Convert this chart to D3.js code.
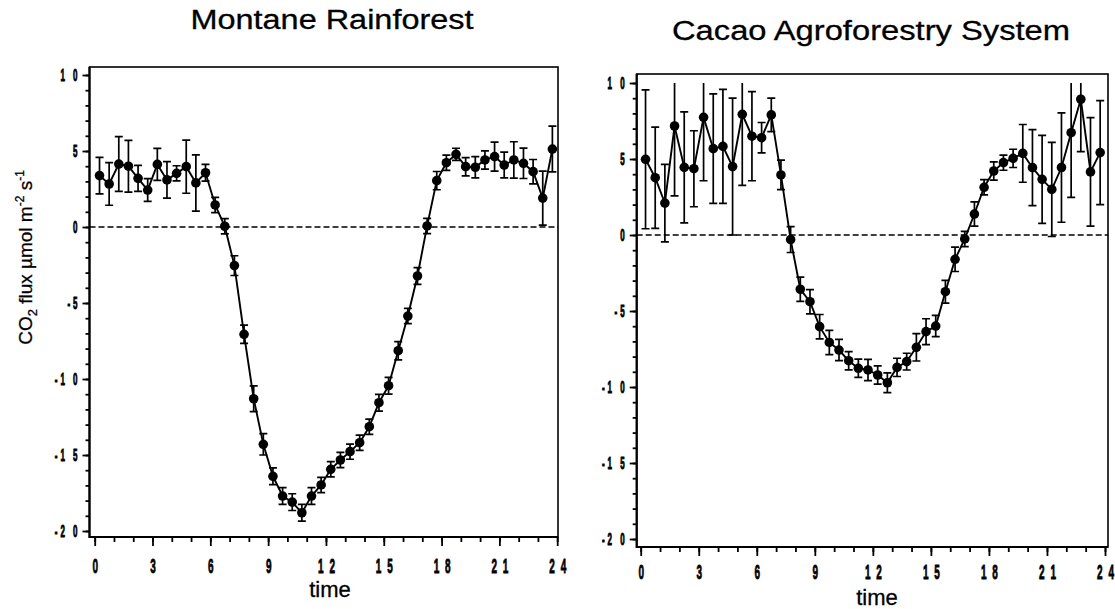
<!DOCTYPE html>
<html>
<head>
<meta charset="utf-8">
<script src="https://cdn.jsdelivr.net/npm/d3@7"></script>
<style>
  body { margin: 0; background: #fff; }
  text { font-family: "Liberation Sans", Arial, sans-serif; fill: #000; }
</style>
</head>
<body>
<svg id="chart" width="1115" height="609"></svg>
<script>
// half-hourly means of CO2 flux (µmol m-2 s-1) with error bars
const hours = [0.25, 0.75, 1.25, 1.75, 2.25, 2.75, 3.25, 3.75, 4.25, 4.75, 5.25, 5.75,
  6.25, 6.75, 7.25, 7.75, 8.25, 8.75, 9.25, 9.75, 10.25, 10.75, 11.25, 11.75,
  12.25, 12.75, 13.25, 13.75, 14.25, 14.75, 15.25, 15.75, 16.25, 16.75, 17.25, 17.75,
  18.25, 18.75, 19.25, 19.75, 20.25, 20.75, 21.25, 21.75, 22.25, 22.75, 23.25, 23.75];

const rainforestFlux = [3.38, 2.83, 4.14, 4.0, 3.2, 2.43, 4.12, 3.1, 3.53, 3.97, 2.9, 3.57,
  1.45, 0.05, -2.54, -7.06, -11.3, -14.3, -16.4, -17.7, -18.1, -18.8, -17.7, -16.97,
  -15.94, -15.33, -14.78, -14.19, -13.14, -11.56, -10.44, -8.14, -5.86, -3.22, 0.07, 3.05,
  4.23, 4.78, 3.97, 3.93, 4.41, 4.63, 4.08, 4.41, 4.19, 3.64, 1.9, 5.13];
const rainforestErr = [1.2, 1.4, 1.8, 1.7, 0.85, 0.75, 1.05, 1.2, 0.5, 1.75, 1.85, 0.55,
  0.5, 0.5, 0.65, 0.6, 0.85, 0.7, 0.55, 0.55, 0.55, 0.55, 0.55, 0.5,
  0.5, 0.5, 0.5, 0.5, 0.5, 0.55, 0.55, 0.6, 0.5, 0.55, 0.5, 0.6,
  0.5, 0.4, 0.6, 0.7, 0.6, 0.95, 0.85, 1.2, 1.0, 0.8, 1.78, 1.5];

const cacaoFlux = [4.98, 3.77, 2.1, 7.17, 4.45, 4.36, 7.74, 5.68, 5.83, 4.5, 7.94, 6.5,
  6.4, 7.9, 3.95, -0.3, -3.57, -4.39, -6.03, -7.07, -7.57, -8.27, -8.77, -8.88,
  -9.21, -9.72, -8.71, -8.33, -7.39, -6.36, -5.99, -3.73, -1.6, -0.26, 1.38, 3.14,
  4.21, 4.76, 5.04, 5.37, 4.43, 3.66, 3.0, 4.44, 6.73, 8.93, 4.15, 5.42];
const cacaoErr = [4.57, 3.33, 2.55, 4.6, 3.65, 2.5, 4.17, 3.6, 3.75, 4.5, 4.67, 2.93,
  1.0, 1.1, 0.97, 0.85, 0.8, 0.8, 0.8, 0.8, 0.7, 0.6, 0.6, 0.7,
  0.6, 0.65, 0.6, 0.55, 0.9, 0.85, 0.7, 0.75, 0.8, 0.5, 0.8, 0.5,
  0.6, 0.5, 0.6, 1.9, 2.5, 2.9, 3.1, 3.6, 4.25, 3.45, 3.57, 3.42];

const titles = ["Montane Rainforest", "Cacao Agroforestry System"];

const yTicks = [-20, -15, -10, -5, 0, 5, 10];
const yTickLabels = ["-2 0", "-1 5", "-1 0", "-5", "0", "5", "1 0"];
const xTicks = [0, 3, 6, 9, 12, 15, 18, 21, 24];
const xTickLabels = ["0", "3", "6", "9", "1 2", "1 5", "1 8", "2 1", "2 4"];

const Y_MIN = -20, Y_MAX = 10;

// pixel layout of each panel
const panels = [
  { left: 89.5, right: 558, top: 67, bottom: 537, x0: 94.7, x24: 557.2, yLo: 531, yHi: 75,
    titleX: 332, titleY: 29, titleW: 283, xlabY: 573, timeX: 330, timeY: 597, flux: rainforestFlux, err: rainforestErr },
  { left: 636.7, right: 1108, top: 74, bottom: 547, x0: 640.7, x24: 1105, yLo: 539, yHi: 83,
    titleX: 871, titleY: 40, titleW: 398, xlabY: 579, timeX: 877, timeY: 605, flux: cacaoFlux, err: cacaoErr }
];

const svg = d3.select("#chart");

panels.forEach((p, pi) => {
  const x = d3.scaleLinear().domain([0, 24]).range([p.x0, p.x24]);
  const y = d3.scaleLinear().domain([Y_MIN, Y_MAX]).range([p.yLo, p.yHi]);
  const g = svg.append("g");

  // frame
  g.append("rect")
    .attr("x", p.left).attr("y", p.top)
    .attr("width", p.right - p.left).attr("height", p.bottom - p.top)
    .attr("fill", "none").attr("stroke", "#000").attr("stroke-width", 1.6);
  g.append("path")
    .attr("d", `M${p.left},${p.top}V${p.bottom}H${p.right}`)
    .attr("fill", "none").attr("stroke", "#000").attr("stroke-width", 2.2);

  // y axis: minor + major ticks
  const yMinor = g.append("g").attr("transform", `translate(${p.left},0)`)
    .call(d3.axisLeft(y).tickValues(d3.range(Y_MIN, Y_MAX + 1, 1)).tickSize(4).tickFormat(""));
  const yMajor = g.append("g").attr("transform", `translate(${p.left},0)`)
    .call(d3.axisLeft(y).tickValues(yTicks).tickSize(7).tickFormat((d, i) => yTickLabels[i]));
  [yMinor, yMajor].forEach(a => {
    a.select(".domain").remove();
    a.selectAll("line").attr("stroke-width", 1.8);
  });
  yMajor.selectAll(".tick text")
    .attr("x", null)
    .attr("transform", "translate(-9,0) scale(0.5,1)")
    .attr("font-family", "Liberation Sans, Arial, sans-serif")
    .attr("font-size", 16).attr("font-weight", "bold")
    .attr("stroke", "#000").attr("stroke-width", 0.9)
    .attr("letter-spacing", 6);

  // x axis
  const xMinor = g.append("g").attr("transform", `translate(0,${p.bottom})`)
    .call(d3.axisBottom(x).tickValues(d3.range(0, 25, 1)).tickSize(5).tickFormat(""));
  const xMajor = g.append("g").attr("transform", `translate(0,${p.bottom})`)
    .call(d3.axisBottom(x).tickValues(xTicks).tickSize(9).tickFormat((d, i) => xTickLabels[i]));
  [xMinor, xMajor].forEach(a => {
    a.select(".domain").remove();
    a.selectAll("line").attr("stroke-width", 1.8);
  });
  xMajor.selectAll(".tick text")
    .attr("y", null).attr("dy", null)
    .attr("transform", `translate(0.8,${p.xlabY - p.bottom}) scale(0.5,1)`)
    .attr("font-family", "Liberation Sans, Arial, sans-serif")
    .attr("font-size", 20).attr("font-weight", "bold")
    .attr("stroke", "#000").attr("stroke-width", 0.8)
    .attr("letter-spacing", 3);

  // zero reference
  g.append("line")
    .attr("x1", p.left).attr("x2", p.right)
    .attr("y1", y(0)).attr("y2", y(0))
    .attr("stroke", "#000").attr("stroke-width", 1.5)
    .attr("stroke-dasharray", "6,3");

  const pts = hours.map((h, i) => ({ h, v: p.flux[i], e: p.err[i] }));

  // error bars (clipped to the top of the axis)
  const cap = 4;
  g.append("g").selectAll("path")
    .data(pts)
    .join("path")
    .attr("fill", "none").attr("stroke", "#000").attr("stroke-width", 1.7)
    .attr("d", d => {
      const cx = x(d.h);
      const hi = Math.min(d.v + d.e, Y_MAX);
      const lo = d.v - d.e;
      let s = `M${cx},${y(hi)}V${y(lo)}M${cx - cap},${y(lo)}H${cx + cap}`;
      if (d.v + d.e <= Y_MAX) s += `M${cx - cap},${y(hi)}H${cx + cap}`;
      return s;
    });

  // mean line
  g.append("path")
    .datum(pts)
    .attr("fill", "none").attr("stroke", "#000").attr("stroke-width", 1.9)
    .attr("d", d3.line().x(d => x(d.h)).y(d => y(d.v)));

  g.append("g").selectAll("circle")
    .data(pts)
    .join("circle")
    .attr("cx", d => x(d.h)).attr("cy", d => y(d.v))
    .attr("r", 4.8).attr("fill", "#000");

  // title and x label
  g.append("text")
    .attr("x", p.titleX).attr("y", p.titleY)
    .attr("text-anchor", "middle")
    .attr("font-size", 27)
    .attr("stroke", "#000").attr("stroke-width", 0.3)
    .attr("textLength", p.titleW).attr("lengthAdjust", "spacingAndGlyphs")
    .text(titles[pi]);
  g.append("text")
    .attr("x", p.timeX).attr("y", p.timeY)
    .attr("text-anchor", "middle")
    .attr("font-size", 22)
    .attr("stroke", "#000").attr("stroke-width", 0.3)
    .text("time");
});

// y axis title
const ylab = svg.append("text")
  .attr("transform", "translate(32,257.5) rotate(-90)")
  .attr("text-anchor", "middle")
  .attr("font-size", 19)
  .attr("stroke", "#000").attr("stroke-width", 0.3);
ylab.append("tspan").text("CO");
ylab.append("tspan").attr("font-size", 13).attr("dy", 5).text("2");
ylab.append("tspan").attr("dy", -5).text(" flux µmol m");
ylab.append("tspan").attr("font-size", 12).attr("dy", -8).text("-2");
ylab.append("tspan").attr("dy", 8).text(" s");
ylab.append("tspan").attr("font-size", 12).attr("dy", -8).text("-1");
</script>
</body>
</html>
